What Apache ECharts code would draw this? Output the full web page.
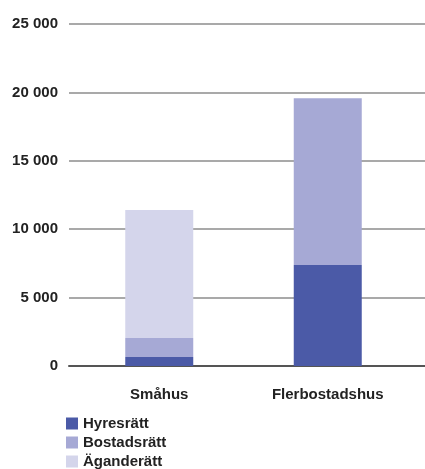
<!DOCTYPE html>
<html>
<head>
<meta charset="utf-8">
<script src="https://cdn.jsdelivr.net/npm/echarts@6/dist/echarts.min.js"></script>
<style>
  html, body { margin: 0; padding: 0; background: #fff; }
  #chart { width: 425px; height: 469px; }
</style>
</head>
<body>
<div id="chart"></div>
<script>
// Housing by type of building and tenure
const categories = ['Småhus', 'Flerbostadshus'];
const seriesNames = ['Hyresrätt', 'Bostadsrätt', 'Äganderätt'];
const hyresratt = [650, 7380];
const bostadsratt = [1400, 12200];
const aganderatt = [9350, 0];
const yTicks = [0, 5000, 10000, 15000, 20000, 25000];

const colors = ['#4b5aa7', '#a6a9d5', '#d4d5eb'];
const font = '"Liberation Sans", Arial, sans-serif';
const yMin = yTicks[0];
const yMax = yTicks[yTicks.length - 1];
const yStep = yTicks[1] - yTicks[0];

const fmt = v => String(v).replace(/\B(?=(\d{3})+(?!\d))/g, ' ');

const chart = echarts.init(document.getElementById('chart'), null, { renderer: 'canvas' });

// one legend block per series, stacked under the plot
const legends = seriesNames.map((name, i) => ({
  orient: 'vertical', left: 66, top: 416 + i * 19, padding: 0,
  itemWidth: 12, itemHeight: 12, itemGap: 0, icon: 'rect',
  data: [name],
  textStyle: { color: '#222', fontFamily: font, fontWeight: 'bold', fontSize: 15 },
  selectedMode: false
}));

chart.setOption({
  animation: false,
  color: colors,
  grid: [
    // value scale with full-width grid lines
    { left: 69, right: 0, top: 24, bottom: 103 },
    // bars
    { left: 75, right: 13, top: 24, bottom: 103 }
  ],
  xAxis: [
    {
      gridIndex: 0, type: 'value', min: 0, max: 1,
      axisLine: { show: true, onZero: false, lineStyle: { color: '#555', width: 2 } },
      axisTick: { show: false }, axisLabel: { show: false }, splitLine: { show: false }
    },
    {
      gridIndex: 1, type: 'category', data: categories,
      axisLine: { show: false }, axisTick: { show: false },
      axisLabel: { color: '#222', fontFamily: font, fontWeight: 'bold', fontSize: 15, margin: 21 }
    }
  ],
  yAxis: [
    {
      gridIndex: 0, type: 'value', min: yMin, max: yMax, interval: yStep,
      axisLine: { show: false }, axisTick: { show: false },
      axisLabel: { color: '#222', fontFamily: font, fontWeight: 'bold', fontSize: 15, margin: 11, formatter: fmt },
      splitLine: { lineStyle: { color: '#8c8c8c', width: 1.5 } }
    },
    {
      gridIndex: 1, type: 'value', min: yMin, max: yMax, interval: yStep, show: false,
      splitLine: { show: false }
    }
  ],
  legend: legends,
  series: [
    { name: seriesNames[0], type: 'bar', stack: 'total', xAxisIndex: 1, yAxisIndex: 1, barWidth: 68, data: hyresratt },
    { name: seriesNames[1], type: 'bar', stack: 'total', xAxisIndex: 1, yAxisIndex: 1, barWidth: 68, data: bostadsratt },
    { name: seriesNames[2], type: 'bar', stack: 'total', xAxisIndex: 1, yAxisIndex: 1, barWidth: 68, data: aganderatt }
  ]
});
</script>
</body>
</html>
